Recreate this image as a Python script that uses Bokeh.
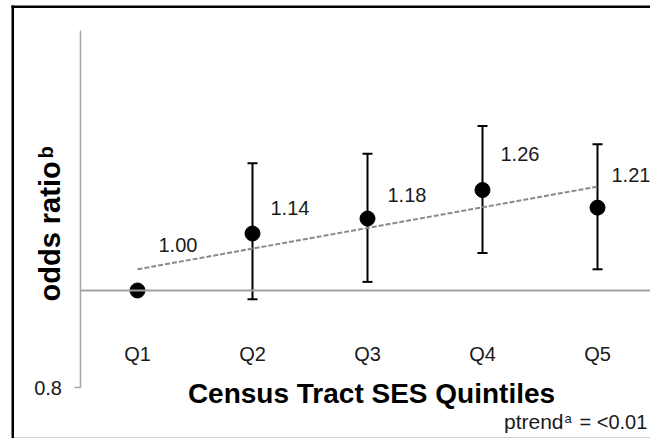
import math
from bokeh.plotting import figure
from bokeh.models import (ColumnDataSource, Range1d, FixedTicker, Whisker,
                          TeeHead, Label, BoxAnnotation, PrintfTickFormatter)
from bokeh.core.properties import value
from bokeh.embed import file_html
from bokeh.resources import INLINE

# ---- data ----
quintiles = ["Q1", "Q2", "Q3", "Q4", "Q5"]
odds_ratio = [1.00, 1.14, 1.18, 1.26, 1.21]
value_labels = ["1.00", "1.14", "1.18", "1.26", "1.21"]
ci_quintiles = ["Q2", "Q3", "Q4", "Q5"]
ci_lower = [0.98, 1.02, 1.09, 1.05]
ci_upper = [1.34, 1.37, 1.46, 1.40]
trend_q = ["Q1", "Q5"]
trend_y = [1.05, 1.27]
y_ticks = [0.8]
y_axis_min, y_axis_max = 0.8, 1.82
reference_or = 1.0
x_title = "Census Tract SES Quintiles"
y_title = "odds ratio"
y_title_sup = "b"
note_main, note_sup, note_value = "ptrend", "a", "= <0.01"

# ---- layout (pixels) ----
W, H = 650, 438
Q1_PX, Q_STEP = 137.0, 115.0      # pixel x of first category, spacing
Y_LOW_PX, Y_REF_PX = 387.0, 290.0  # pixel y (from top) of 0.8 and of 1.0
label_dx = [21, 18, 20, 18, 14]
label_dy = [-46, -26, -24, -36, -33]
FONT = "Liberation Sans"

pos = {q: i + 1 for i, q in enumerate(quintiles)}
xs = [pos[q] for q in quintiles]

x_start = 1 - Q1_PX / Q_STEP
x_end = x_start + W / Q_STEP
k = (Y_LOW_PX - Y_REF_PX) / math.log(reference_or / y_axis_min)
y_top = y_axis_min * math.exp(Y_LOW_PX / k)
y_bot = y_axis_min * math.exp(-(H - Y_LOW_PX) / k)

p = figure(width=W, height=H, x_range=Range1d(x_start, x_end),
           y_range=Range1d(y_bot, y_top), y_axis_type="log",
           output_backend="svg", toolbar_location=None,
           min_border=0, min_border_left=0, min_border_right=0,
           min_border_top=0, min_border_bottom=0)
p.xgrid.visible = False
p.ygrid.visible = False
p.outline_line_color = None
p.background_fill_color = "white"
p.border_fill_color = "white"

# x axis: sits on OR = 1 like the original
xa = p.xaxis[0]
xa.fixed_location = reference_or
xa.bounds = (0.5, x_end)
xa.ticker = FixedTicker(ticks=xs, minor_ticks=[])
xa.major_label_overrides = {pos[q]: q for q in quintiles}
xa.axis_line_color = "#a0a0a0"
xa.axis_line_width = 2
xa.major_tick_line_color = None
xa.minor_tick_line_color = None
xa.major_label_standoff = 46
xa.major_label_text_font = FONT
xa.major_label_text_font_size = "20px"
xa.major_label_text_color = "#1a1a1a"

# y axis
ya = p.yaxis[0]
ya.fixed_location = 0.5
ya.bounds = (y_axis_min, y_axis_max)
ya.ticker = FixedTicker(ticks=y_ticks, minor_ticks=[])
ya.formatter = PrintfTickFormatter(format="%.1f")
ya.axis_line_color = "#a6a6a6"
ya.axis_line_width = 1.5
ya.major_tick_out = 6
ya.major_tick_in = 0
ya.major_tick_line_color = "#a6a6a6"
ya.major_tick_line_width = 1.5
ya.minor_tick_line_color = None
ya.major_label_standoff = 12
ya.major_label_text_font = FONT
ya.major_label_text_font_size = "20px"
ya.major_label_text_color = "#1a1a1a"

# trend line
p.line(x=[pos[q] for q in trend_q], y=trend_y, line_color="#8a8a8a",
       line_width=2, line_dash="5 2")

# error bars
ci_src = ColumnDataSource(dict(x=[pos[q] for q in ci_quintiles], lower=ci_lower, upper=ci_upper))
p.add_layout(Whisker(source=ci_src, base="x", lower="lower", upper="upper",
                     line_color="black", line_width=2,
                     upper_head=TeeHead(size=10, line_width=2, line_color="black"),
                     lower_head=TeeHead(size=10, line_width=2, line_color="black")))

# points + labels
pt_src = ColumnDataSource(dict(x=xs, odds=odds_ratio, lab=value_labels,
                               dx=label_dx, dy=label_dy))
p.scatter(x="x", y="odds", source=pt_src, size=15, color="black")
p.text(x="x", y="odds", text="lab", source=pt_src, x_offset="dx", y_offset="dy",
       text_font=value(FONT), text_font_size="20px", text_align="left",
       text_baseline="middle", text_color="#1a1a1a")

# ---- text annotations (screen units, frame == canvas, origin bottom-left) ----
def lab(x, y, text, size, bold=False, vertical=False, align="left", color="#1a1a1a"):
    # (x, y): wanted baseline anchor in pixels from the top-left corner
    shift = 0.42 * size  # compensate text-box offset of the renderer
    if vertical:
        x = x - shift
    else:
        y = y - shift
    p.add_layout(Label(x=x, y=H - y, x_units="screen", y_units="screen",
                       angle=math.pi / 2 if vertical else 0.0, text=text,
                       text_font=FONT, text_font_size=f"{size}px",
                       text_font_style="bold" if bold else "normal",
                       text_align=align, text_baseline="alphabetic", text_color=color))

lab(371, 405, x_title, 28, bold=True, align="center", color="black")
lab(62, 301, y_title, 29, bold=True, vertical=True, color="black")
lab(54, 158, y_title_sup, 20, bold=True, vertical=True, color="black")
lab(563, 430, note_main, 21, align="right")
lab(564, 423, note_sup, 13)
lab(579, 430, note_value, 20)

# chart border (left, top) and bottom rule
def box(l, r, t, b, color):
    p.add_layout(BoxAnnotation(left=l, right=r, top=H - t, bottom=H - b,
                               left_units="screen", right_units="screen",
                               top_units="screen", bottom_units="screen",
                               fill_color=color, fill_alpha=1, line_color=None,
                               level="overlay"))

box(11, 13.5, 5, H, "black")
box(11, W, 5, 7.5, "black")
box(13.5, W, 436.5, 437.5, "#d0d0d0")

open("out.html", "w").write(file_html(p, INLINE))
